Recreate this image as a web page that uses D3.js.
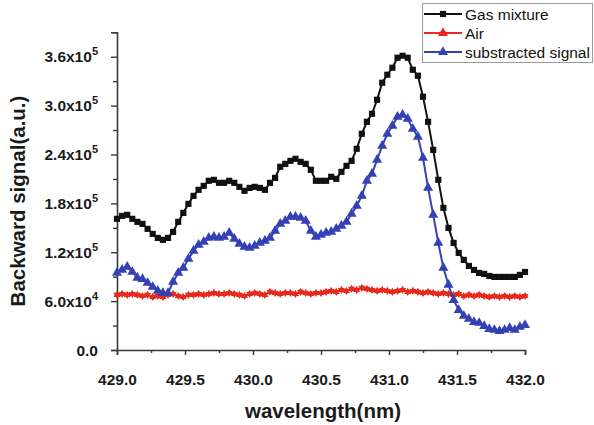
<!DOCTYPE html>
<html>
<head>
<meta charset="utf-8">
<script src="https://cdn.jsdelivr.net/npm/d3@7"></script>
<style>
  html, body { margin: 0; padding: 0; background: #fff; }
  svg { display: block; }
  text { font-family: "Liberation Sans", Arial, Helvetica, sans-serif; }
</style>
</head>
<body>
<svg id="chart" width="594" height="425"></svg>
<script>
// Wavelength samples (nm)
const wavelength = [
  429.0000, 429.0375, 429.0750, 429.1125, 429.1500, 429.1875, 429.2250, 429.2625,
  429.3000, 429.3375, 429.3750, 429.4125, 429.4500, 429.4875, 429.5250, 429.5625,
  429.6000, 429.6375, 429.6750, 429.7125, 429.7500, 429.7875, 429.8250, 429.8625,
  429.9000, 429.9375, 429.9750, 430.0125, 430.0500, 430.0875, 430.1250, 430.1625,
  430.2000, 430.2375, 430.2750, 430.3125, 430.3500, 430.3875, 430.4250, 430.4625,
  430.5000, 430.5375, 430.5750, 430.6125, 430.6500, 430.6875, 430.7250, 430.7625,
  430.8000, 430.8375, 430.8750, 430.9125, 430.9500, 430.9875, 431.0250, 431.0625,
  431.1000, 431.1375, 431.1750, 431.2125, 431.2500, 431.2875, 431.3250, 431.3625,
  431.4000, 431.4375, 431.4750, 431.5125, 431.5500, 431.5875, 431.6250, 431.6625,
  431.7000, 431.7375, 431.7750, 431.8125, 431.8500, 431.8875, 431.9250, 431.9625,
  432.0000
];

// Backward signal, in units of 10^3 a.u.
const gasMixture = [
  161.0, 164.6, 165.9, 161.0, 157.3, 154.8, 148.7, 142.5, 137.6, 135.2,
  137.6, 145.0, 157.3, 168.3, 179.4, 189.2, 196.6, 201.5, 207.7, 208.9,
  205.2, 205.2, 207.7, 205.2, 200.3, 195.4, 199.0, 200.3, 199.0, 196.6,
  205.2, 211.3, 224.9, 228.5, 232.2, 234.7, 231.0, 228.5, 221.2, 207.7,
  207.7, 207.7, 212.6, 210.1, 218.7, 226.1, 232.2, 247.0, 265.4, 280.1,
  290.0, 307.2, 328.1, 337.9, 346.5, 358.8, 361.2, 358.8, 344.0, 336.7,
  310.9, 280.1, 245.7, 208.9, 174.5, 149.9, 131.5, 119.2, 110.6, 103.2,
  98.3, 94.6, 93.4, 90.9, 89.7, 89.7, 89.7, 89.7, 89.7, 92.2,
  95.8
];

const air = [
  67.6, 68.8, 67.6, 68.8, 67.6, 66.3, 67.6, 65.1, 66.3, 65.1,
  67.6, 68.8, 66.3, 65.1, 67.6, 67.6, 68.8, 67.6, 68.8, 70.0,
  68.8, 68.8, 70.0, 68.8, 67.6, 66.3, 68.8, 70.0, 68.8, 67.6,
  71.3, 70.0, 68.8, 70.0, 70.0, 68.8, 71.3, 70.0, 68.8, 70.0,
  70.0, 71.3, 72.5, 71.3, 73.7, 72.5, 75.0, 73.7, 76.2, 75.0,
  73.7, 72.5, 73.7, 72.5, 71.3, 72.5, 73.7, 71.3, 72.5, 71.3,
  70.0, 71.3, 70.0, 68.8, 70.0, 68.8, 67.6, 68.8, 66.3, 67.6,
  66.3, 67.6, 66.3, 65.1, 66.3, 65.1, 66.3, 65.1, 66.3, 65.1,
  66.3
];

const subtracted = [
  94.6, 98.3, 102.0, 95.8, 88.5, 87.2, 82.3, 77.4, 72.5, 70.0,
  70.0, 83.6, 94.6, 100.8, 111.8, 121.6, 129.0, 132.7, 137.6, 138.8,
  137.6, 138.8, 143.8, 136.4, 130.2, 126.6, 125.3, 127.8, 131.5, 133.9,
  137.6, 146.2, 154.8, 158.5, 163.4, 163.4, 162.2, 158.5, 146.2, 138.8,
  141.3, 143.8, 145.0, 148.7, 152.4, 157.3, 167.1, 176.9, 189.2, 207.7,
  216.3, 233.5, 250.7, 265.4, 275.2, 286.3, 288.7, 283.8, 271.5, 261.7,
  235.9, 199.0, 165.9, 131.5, 100.8, 79.9, 61.4, 49.1, 41.8, 38.1,
  34.4, 33.2, 29.5, 25.8, 24.6, 23.3, 24.6, 27.0, 24.6, 28.3,
  30.7
];

// Axis ticks
const xMajorTicks = [429.0, 429.5, 430.0, 430.5, 431.0, 431.5, 432.0];
const xMinorTicks = [429.25, 429.75, 430.25, 430.75, 431.25, 431.75];
const yMajorTicks = [0, 60, 120, 180, 240, 300, 360];
const yMinorTicks = [30, 90, 150, 210, 270, 330, 390];
const yTickLabels = [
  { base: "0.0", exp: "" },
  { base: "6.0x10", exp: "4" },
  { base: "1.2x10", exp: "5" },
  { base: "1.8x10", exp: "5" },
  { base: "2.4x10", exp: "5" },
  { base: "3.0x10", exp: "5" },
  { base: "3.6x10", exp: "5" }
];

const seriesNames = ["Gas mixture", "Air", "substracted signal"];
const seriesColors = ["#111111", "#e8291c", "#3341b5"];
const seriesMarkers = ["square", "star", "triangle"];
const seriesValues = [gasMixture, air, subtracted];

const svg = d3.select("#chart");

const x = d3.scaleLinear().domain([429, 432]).range([117, 525]);
const y = d3.scaleLinear().domain([0, 390]).range([350, 32.3]);

const axisColor = "#3a3a3a";

// X axis
const xAxisG = svg.append("g").attr("transform", `translate(0,${y(0)})`);
xAxisG.call(d3.axisBottom(x).tickValues(xMajorTicks).tickSize(5).tickFormat(d3.format(".1f")));
xAxisG.append("g").call(d3.axisBottom(x).tickValues(xMinorTicks).tickSize(3).tickFormat(""));
xAxisG.selectAll(".domain").attr("stroke", axisColor).attr("stroke-width", 1.6);
xAxisG.selectAll(".tick line").attr("stroke", axisColor).attr("stroke-width", 1.4);
xAxisG.selectAll(".tick text")
  .attr("fill", "#1a1a1a")
  .attr("font-size", 15.5)
  .attr("font-weight", "bold")
  .attr("dy", "1.75em");
xAxisG.selectAll("g > g .domain").remove();

// Y axis
const yAxisG = svg.append("g").attr("transform", `translate(${x(429)},0)`);
yAxisG.call(d3.axisLeft(y).tickValues(yMajorTicks).tickSize(6).tickFormat(""));
yAxisG.append("g").call(d3.axisLeft(y).tickValues(yMinorTicks).tickSize(4).tickFormat(""));
yAxisG.selectAll(".domain").attr("stroke", axisColor).attr("stroke-width", 1.6);
yAxisG.selectAll(".tick line").attr("stroke", axisColor).attr("stroke-width", 1.4);
yAxisG.selectAll("g > g .domain").remove();

// Y tick labels with superscript exponents
const yLabels = svg.append("g");
yMajorTicks.forEach((v, i) => {
  const t = yLabels.append("text")
    .attr("x", 98)
    .attr("y", y(v) + 5.5)
    .attr("text-anchor", "end")
    .attr("font-size", 15.5)
    .attr("font-weight", "bold")
    .attr("fill", "#1a1a1a");
  t.append("tspan").text(yTickLabels[i].base);
  if (yTickLabels[i].exp) {
    t.append("tspan")
      .attr("font-size", 11)
      .attr("dy", -7)
      .text(yTickLabels[i].exp);
  }
});

// Axis titles
svg.append("text")
  .attr("x", 323)
  .attr("y", 418)
  .attr("text-anchor", "middle")
  .attr("font-size", 20.5)
  .attr("font-weight", "bold")
  .attr("fill", "#1a1a1a")
  .text("wavelength(nm)");

svg.append("text")
  .attr("transform", "translate(25,201) rotate(-90)")
  .attr("text-anchor", "middle")
  .attr("font-size", 20.5)
  .attr("font-weight", "bold")
  .attr("fill", "#1a1a1a")
  .text("Backward signal(a.u.)");

// Marker shapes
const markerPath = {
  square: d3.symbol().type(d3.symbolSquare).size(38)(),
  triangle: d3.symbol().type(d3.symbolTriangle).size(44)(),
  star: d3.symbol().type(d3.symbolTriangle).size(22)()
};

// Series lines and markers
const line = d3.line()
  .x((d, i) => x(wavelength[i]))
  .y(d => y(d));

const plot = svg.append("g");
[1, 0, 2].forEach(k => {
  const g = plot.append("g");
  g.append("path")
    .datum(seriesValues[k])
    .attr("fill", "none")
    .attr("stroke", seriesColors[k])
    .attr("stroke-width", 2)
    .attr("d", line);
  g.selectAll("path.mk")
    .data(seriesValues[k])
    .join("path")
    .attr("class", "mk")
    .attr("d", markerPath[seriesMarkers[k]])
    .attr("transform", (d, i) => `translate(${x(wavelength[i])},${y(d)})`)
    .attr("fill", seriesColors[k]);
  if (seriesMarkers[k] === "star") {
    g.selectAll("path.mk2")
      .data(seriesValues[k])
      .join("path")
      .attr("class", "mk2")
      .attr("d", markerPath.star)
      .attr("transform", (d, i) => `translate(${x(wavelength[i])},${y(d)}) rotate(180)`)
      .attr("fill", seriesColors[k]);
  }
});

// Legend
const legend = svg.append("g");
legend.append("rect")
  .attr("x", 422.5)
  .attr("y", 3.5)
  .attr("width", 170)
  .attr("height", 59)
  .attr("fill", "#fff")
  .attr("stroke", "#9a9a9a")
  .attr("stroke-width", 1);

seriesNames.forEach((name, k) => {
  const ly = 14 + k * 19;
  legend.append("line")
    .attr("x1", 424).attr("x2", 462)
    .attr("y1", ly).attr("y2", ly)
    .attr("stroke", seriesColors[k])
    .attr("stroke-width", 1.8);
  legend.append("path")
    .attr("d", seriesMarkers[k] === "square" ? markerPath.square : markerPath.triangle)
    .attr("transform", `translate(443,${ly})`)
    .attr("fill", seriesColors[k]);
  legend.append("text")
    .attr("x", 465)
    .attr("y", ly + 5.5)
    .attr("font-size", 15.5)
    .attr("fill", "#111")
    .text(name);
});
</script>
</body>
</html>
